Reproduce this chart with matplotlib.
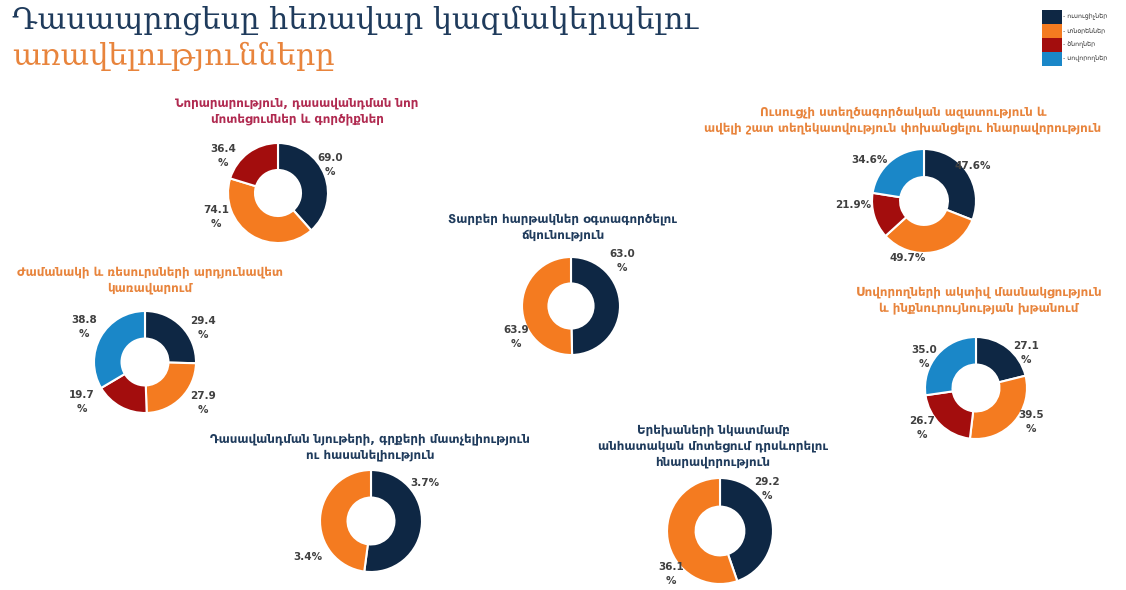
import matplotlib
matplotlib.use('Agg')
import matplotlib.pyplot as plt
from matplotlib.patches import Rectangle

# Figure size in pixels
W, H = 1126, 590

# Colours of the four respondent groups
navy = '#0e2744'
orange = '#f47b20'
red = '#a30d0d'
blue = '#1a87c8'
group_colors = [navy, orange, red, blue]

# Legend labels
groups = ['ուսուցիչներ', 'տնօրեններ', 'ծնողներ', 'սովորողներ']

# Main title
title_line1 = 'Դասապրոցեսը հեռավար կազմակերպելու'
title_line2 = 'առավելությունները'

# Donut titles
t_innov = 'Նորարարություն, դասավանդման նոր\nմոտեցումներ և գործիքներ'
t_freedom = 'Ուսուցչի ստեղծագործական ազատություն և\nավելի շատ տեղեկատվություն փոխանցելու հնարավորություն'
t_time = 'Ժամանակի և ռեսուրսների արդյունավետ\nկառավարում'
t_platform = 'Տարբեր հարթակներ օգտագործելու\nճկունություն'
t_active = 'Սովորողների ակտիվ մասնակցություն\nև ինքնուրույնության խթանում'
t_materials = 'Դասավանդման նյութերի, գրքերի մատչելիություն\nու հասանելիություն'
t_individual = 'Երեխաների նկատմամբ\nանհատական մոտեցում դրսևորելու\nհնարավորություն'

# Values (navy, orange, red, blue order)
v_innov = [69.0, 74.1, 36.4]
v_freedom = [47.6, 49.7, 21.9, 34.6]
v_time = [29.4, 27.9, 19.7, 38.8]
v_platform = [63.0, 63.9]
v_active = [27.1, 39.5, 26.7, 35.0]
v_materials = [3.7, 3.4]
v_individual = [29.2, 36.1]

# layout: centre (px), radius (px), title colour, title centre (px), label wrap, label offsets
charts = [
    dict(title=t_innov, vals=v_innov, c=(278, 193), r=50, tcol='#b02a50', tx=297, ty=111, wrap=True,
         offs=[(1.04, 0.56), (-1.24, -0.48), (-1.1, 0.74)]),
    dict(title=t_freedom, vals=v_freedom, c=(924, 201), r=52, tcol='#e8843c', tx=903, ty=120, wrap=False,
         offs=[(0.94, 0.67), (-0.31, -1.1), (-1.37, -0.08), (-1.04, 0.79)]),
    dict(title=t_time, vals=v_time, c=(145, 362), r=51, tcol='#e8843c', tx=150, ty=280, wrap=True,
         offs=[(1.14, 0.67), (1.14, -0.8), (-1.24, -0.78), (-1.2, 0.69)]),
    dict(title=t_platform, vals=v_platform, c=(571, 306), r=49, tcol='#1f3b5c', tx=563, ty=227, wrap=True,
         offs=[(1.04, 0.92), (-1.12, -0.63)]),
    dict(title=t_active, vals=v_active, c=(976, 388), r=51, tcol='#e8843c', tx=979, ty=300, wrap=True,
         offs=[(0.98, 0.69), (1.08, -0.67), (-1.06, -0.78), (-1.02, 0.61)]),
    dict(title=t_materials, vals=v_materials, c=(371, 521), r=51, tcol='#1f3b5c', tx=370, ty=447, wrap=False,
         offs=[(1.06, 0.75), (-1.24, -0.71)]),
    dict(title=t_individual, vals=v_individual, c=(720, 531), r=53, tcol='#1f3b5c', tx=713, ty=446, wrap=True,
         offs=[(0.89, 0.79), (-0.92, -0.81)]),
]

fig = plt.figure(figsize=(W / 100, H / 100), dpi=100)
fig.patch.set_facecolor('white')

# Main title
fig.text(12 / W, 1 - 20 / H, title_line1, color='#1f3b5c', fontsize=21.8,
         family=['DejaVu Serif', 'DejaVu Sans'], ha='left', va='center')
fig.text(12 / W, 1 - 56 / H, title_line2, color='#e8843c', fontsize=21.8,
         family=['DejaVu Serif', 'DejaVu Sans'], ha='left', va='center')

for ch in charts:
    cx, cy = ch['c']
    r = ch['r']
    ax = fig.add_axes([(cx - r) / W, 1 - (cy + r) / H, 2 * r / W, 2 * r / H])
    cols = group_colors[:len(ch['vals'])]
    ax.pie(ch['vals'], colors=cols, startangle=90, counterclock=False, radius=1,
           wedgeprops=dict(width=0.54, edgecolor='white', linewidth=1.5))
    ax.set_xlim(-1, 1)
    ax.set_ylim(-1, 1)
    ax.axis('off')
    for v, (dx, dy) in zip(ch['vals'], ch['offs']):
        lab = f'{v:.1f}\n%' if ch['wrap'] else f'{v:.1f}%'
        ax.text(dx, dy, lab, ha='center', va='center', fontsize=7.5, fontweight='bold',
                color='#404040', linespacing=1.5)
    fig.text(ch['tx'] / W, 1 - ch['ty'] / H, ch['title'], ha='center', va='center',
             fontsize=8.6, fontweight='bold', color=ch['tcol'], linespacing=1.3)

# Legend in the top-right corner
for i, (g, col) in enumerate(zip(groups, group_colors)):
    y0 = 10 + i * 14
    fig.patches.append(Rectangle((1042 / W, 1 - (y0 + 14) / H), 20 / W, 14 / H,
                                 transform=fig.transFigure, facecolor=col, edgecolor='none'))
    fig.text(1063 / W, 1 - (y0 + 7) / H, '- ' + g, fontsize=4.5, color='#333333',
             ha='left', va='center')

fig.savefig('out.png', dpi=100)
